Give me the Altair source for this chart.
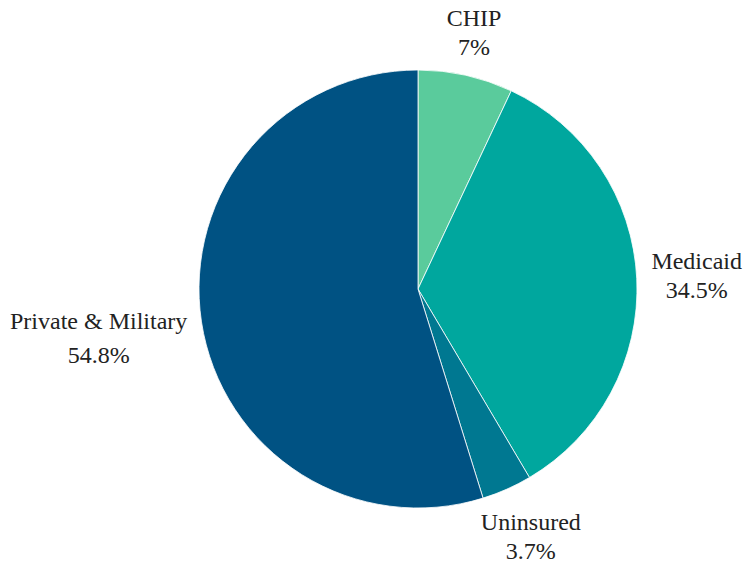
import altair as alt
import pandas as pd

categories = ["CHIP", "Medicaid", "Uninsured", "Private & Military"]
shares = [7.0, 34.5, 3.7, 54.8]
pct_labels = ["7%", "34.5%", "3.7%", "54.8%"]
colors = ["#5acb9c", "#00a79e", "#007891", "#005283"]

df = pd.DataFrame({
    "category": categories,
    "share": shares,
    "pct": pct_labels,
    "order": list(range(len(categories))),
})
df["label"] = [[c, p] for c, p in zip(df["category"], df["pct"])]

# label layout: (radius, dy, lineHeight)
label_layout = {
    "CHIP": (257, -19, 29),
    "Medicaid": (279, -14, 29),
    "Uninsured": (278, -20, 29),
    "Private & Military": (323, -16, 34),
}

theta_scale = alt.Scale(domain=[0, 100], range=[0, 6.283185307179586])

base = alt.Chart(df).transform_window(
    end="sum(share)", sort=[alt.SortField("order")], frame=[None, 0]
).transform_calculate(
    start="datum.end - datum.share",
    mid="datum.end - datum.share / 2",
)

pie = base.mark_arc(outerRadius=219, stroke="white", strokeWidth=0.8).encode(
    theta=alt.Theta("start:Q", scale=theta_scale),
    theta2="end:Q",
    color=alt.Color("category:N", scale=alt.Scale(domain=categories, range=colors), legend=None),
)

layers = [pie]
for cat in categories:
    r, dy, lh = label_layout[cat]
    layers.append(
        base.mark_text(
            radius=r, dy=dy, font="Liberation Serif", fontSize=24,
            lineHeight=lh, align="center", baseline="middle", color="#222222",
        ).encode(
            theta=alt.Theta("mid:Q", scale=theta_scale),
            text="label",
        ).transform_filter(alt.datum.category == cat)
    )

chart = alt.layer(*layers).properties(
    width=660, height=528,
    padding={"left": 80, "top": 17, "right": 0, "bottom": 12},
    autosize=alt.AutoSizeParams(type="none"),
).configure_view(stroke=None)

chart.save("out.html", embed_options={"renderer": "svg", "actions": False})
